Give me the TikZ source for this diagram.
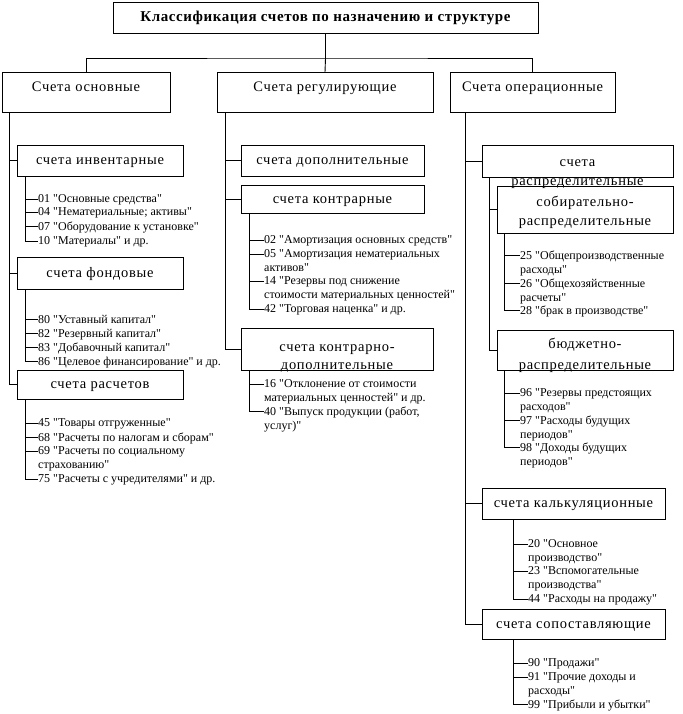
\documentclass[tikz,border=0pt]{standalone}
\usepackage{fontspec}
\setmainfont{Liberation Serif}[Ligatures=TeXOff]
\newfontfamily\boxfam{Liberation Serif}[LetterSpace=5,Ligatures=TeXOff]
\newfontfamily\titlefam{Liberation Serif}[LetterSpace=4,Ligatures=TeXOff]
\newcommand\itemf{\fontsize{12}{13.8}\selectfont}
\newcommand\boxf{\boxfam\fontsize{14.5}{20}\selectfont}
\newcommand\titlef{\titlefam\fontsize{15}{17}\selectfont\bfseries}
\tikzset{
  ln/.style={line width=0.9pt},
  box/.style={draw, line width=0.9pt, font=\boxf, inner sep=0pt, align=center},
  boxtxt/.style={font=\boxf, inner sep=0pt, align=center},
  one/.style={text height=11pt, text depth=3pt},
  top/.style={text height=7pt, text depth=9pt},
  itm/.style={font=\itemf, align=left, inner sep=0pt, anchor=north west},
}
\begin{document}
\begin{tikzpicture}[x=1pt,y=-1pt]
\useasboundingbox (0,0) rectangle (682,714);
% title and top level
\node[box, font=\titlef, minimum width=425pt, minimum height=31pt] (title) at (325.5,17.5) {Классификация счетов по назначению и структуре};
\node[box, top, minimum width=168pt, minimum height=40pt] (b1) at (86,92.5) {Счета основные};
\node[box, top, minimum width=216pt, minimum height=40pt] (b2) at (325,92.5) {Счета регулирующие};
\node[box, top, minimum width=165pt, minimum height=40pt] (b3) at (532.5,92.5) {Счета операционные};
\coordinate (hub) at (325.5,58);
\draw[ln] (title.south) -- (hub);
\draw[ln] (b1.north) |- (hub) -| (b3.north);
\draw[ln] (hub) -- (b2.north);

% ---------------- left column
\node[box, one, minimum width=166pt, minimum height=31pt] (inv) at (100,160.5) {счета инвентарные};
\node[box, one, minimum width=166pt, minimum height=32pt] (fond) at (100,273) {счета фондовые};
\node[box, one, minimum width=166pt, minimum height=29pt] (rasch) at (100,384.5) {счета расчетов};
\coordinate (s1) at ([xshift=8pt]b1.south west);
\draw[ln] (s1) |- (inv.west);
\draw[ln] (s1) |- (fond.west);
\draw[ln] (s1) |- (rasch.west);

\node[itm] (i01) at (38,194.8) {01 "Основные средства"};
\node[itm] (i04) at (38,207.8) {04 "Нематериальные; активы"};
\node[itm] (i07) at (38,221.8) {07 "Оборудование к установке"};
\node[itm] (i10) at (38,236.8) {10 "Материалы" и др.};
\coordinate (s11) at ([xshift=9pt]inv.south west);
\foreach \n in {i01,i04,i07,i10} \draw[ln] (s11) |- ([yshift=-4.2pt]\n.north west);

\node[itm] (i80) at (38,314.8) {80 "Уставный капитал"};
\node[itm] (i82) at (38,328.8) {82 "Резервный капитал"};
\node[itm] (i83) at (38,342.8) {83 "Добавочный капитал"};
\node[itm] (i86) at (38,356.8) {86 "Целевое финансирование" и др.};
\coordinate (s12) at ([xshift=9pt]fond.south west);
\foreach \n in {i80,i82,i83,i86} \draw[ln] (s12) |- ([yshift=-4.2pt]\n.north west);

\node[itm] (i45) at (38,418.8) {45 "Товары отгруженные"};
\node[itm] (i68) at (38,432.8) {68 "Расчеты по налогам и сборам"};
\node[itm] (i69) at (38,446.8) {69 "Расчеты по социальному\\страхованию"};
\node[itm] (i75) at (38,474.8) {75 "Расчеты с учредителями" и др.};
\coordinate (s13) at ([xshift=9pt]rasch.south west);
\foreach \n in {i45,i68,i69,i75} \draw[ln] (s13) |- ([yshift=-4.2pt]\n.north west);

% ---------------- middle column
\node[box, one, minimum width=183pt, minimum height=31pt] (dop) at (332.5,160.5) {счета дополнительные};
\node[box, one, minimum width=183pt, minimum height=28pt] (kontr) at (332.5,199) {счета контрарные};
\node[box, font={\boxfam\fontsize{14.5}{18}\selectfont}, text height=41pt, text depth=1pt, minimum width=192pt, minimum height=42pt] (kd) at (337,349.5) {счета контрарно-\\дополнительные};
\coordinate (s2) at ([xshift=9pt]b2.south west);
\draw[ln] (s2) |- (dop.west);
\draw[ln] (s2) |- (kontr.west);
\draw[ln] (s2) |- (kd.west);

\node[itm] (i02) at (264,235.8) {02 "Амортизация основных средств"};
\node[itm] (i05) at (264,249.8) {05 "Амортизация нематериальных\\активов"};
\node[itm] (i14) at (264,276.8) {14 "Резервы под снижение\\стоимости материальных ценностей"};
\node[itm] (i42) at (264,304.8) {42 "Торговая наценка" и др.};
\coordinate (s21) at ([xshift=9pt]kontr.south west);
\foreach \n in {i02,i05,i14,i42} \draw[ln] (s21) |- ([yshift=-4.2pt]\n.north west);

\node[itm] (i16) at (264,379.8) {16 "Отклонение от стоимости\\материальных ценностей" и др.};
\node[itm] (i40) at (264,406.8) {40 "Выпуск продукции (работ,\\услуг)"};
\coordinate (s22) at ([xshift=9pt]kd.south west);
\foreach \n in {i16,i40} \draw[ln] (s22) |- ([yshift=-4.2pt]\n.north west);

% ---------------- right column
\node[box, minimum width=191pt, minimum height=32pt] (raspr) at (577.5,161) {};
\node[boxtxt, font={\boxfam\fontsize{14.5}{19}\selectfont}] (rasprt) at (577.5,174) {счета\\распределительные};
\node[box, font={\boxfam\fontsize{14.5}{19}\selectfont}, text height=35pt, text depth=3pt, minimum width=176pt, minimum height=47pt] (sobir) at (585,209.5) {собирательно-\\распределительные};
\node[box, font={\boxfam\fontsize{14.5}{21}\selectfont}, text height=39.5pt, text depth=0.5pt, minimum width=176pt, minimum height=40pt] (budzh) at (585,350) {бюджетно-\\распределительные};
\node[box, one, minimum width=183pt, minimum height=31pt] (kalk) at (573.5,503.5) {счета калькуляционные};
\node[box, one, minimum width=183pt, minimum height=30pt] (sop) at (573.5,624) {счета сопоставляющие};
\coordinate (s3) at ([xshift=16pt]b3.south west);
\draw[ln] (s3) |- (raspr.west);
\draw[ln] (s3) |- (kalk.west);
\draw[ln] (s3) |- (sop.west);
\coordinate (s31) at ([xshift=8pt]raspr.south west);
\draw[ln] (s31) |- (sobir.west);
\draw[ln] (s31) |- (budzh.west);

\node[itm] (i25) at (520,250.8) {25 "Общепроизводственные\\расходы"};
\node[itm] (i26) at (520,278.8) {26 "Общехозяйственные\\расчеты"};
\node[itm] (i28) at (520,305.8) {28 "брак в производстве"};
\coordinate (s32) at ([xshift=8pt]sobir.south west);
\foreach \n in {i25,i26,i28} \draw[ln] (s32) |- ([yshift=-4.2pt]\n.north west);

\node[itm] (i96) at (520,388.8) {96 "Резервы предстоящих\\расходов"};
\node[itm] (i97) at (520,415.8) {97 "Расходы будущих\\периодов"};
\node[itm] (i98) at (520,442.8) {98 "Доходы будущих\\периодов"};
\coordinate (s33) at ([xshift=8pt]budzh.south west);
\foreach \n in {i96,i97,i98} \draw[ln] (s33) |- ([yshift=-4.2pt]\n.north west);

\node[itm] (i20) at (528,539.8) {20 "Основное\\производство"};
\node[itm] (i23) at (528,566.8) {23 "Вспомогательные\\производства"};
\node[itm] (i44) at (528,594.8) {44 "Расходы на продажу"};
\coordinate (s34) at ([xshift=32pt]kalk.south west);
\foreach \n in {i20,i23,i44} \draw[ln] (s34) |- ([yshift=-4.2pt]\n.north west);

\node[itm] (i90) at (528,658.8) {90 "Продажи"};
\node[itm] (i91) at (528,672.8) {91 "Прочие доходы и\\расходы"};
\node[itm] (i99) at (528,699.8) {99 "Прибыли и убытки"};
\coordinate (s35) at ([xshift=32pt]sop.south west);
\foreach \n in {i90,i91,i99} \draw[ln] (s35) |- ([yshift=-4.2pt]\n.north west);
\end{tikzpicture}
\end{document}
